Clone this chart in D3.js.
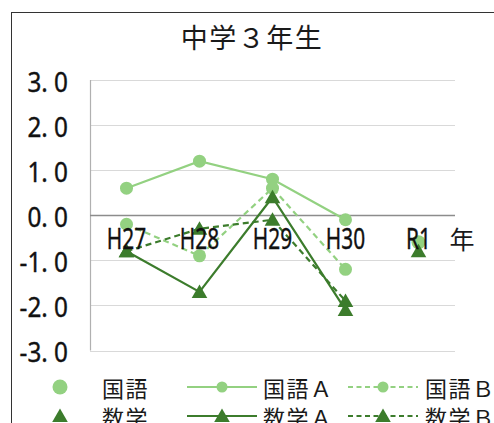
<!DOCTYPE html>
<html><head><meta charset="utf-8">
<script src="https://cdn.jsdelivr.net/npm/d3@7"></script>
<style>body{margin:0;background:#fff}svg{display:block}</style>
</head><body>
<svg id="c" width="494" height="423"></svg>
<script>
const categories = ["H27","H28","H29","H30","R1"];
const kokugo  = [null, null, null, null, -0.6];
const kokugoA = [0.6, 1.2, 0.8, -0.1, null];
const kokugoB = [-0.2, -0.9, 0.6, -1.2, null];
const sugaku  = [null, null, null, null, -0.8];
const sugakuA = [-0.8, -1.7, 0.4, -2.1, null];
const sugakuB = [-0.8, -0.3, -0.1, -1.9, null];
const yTicks = [3, 2, 1, 0, -1, -2, -3];
const title = "中学３年生";
const xUnit = "年";

const LIGHT = "#93d181", DARK = "#3c7c2c";
const series = [
  {name:"国語",  values:kokugo,  color:LIGHT, marker:"circle",   line:null},
  {name:"国語Ａ", values:kokugoA, color:LIGHT, marker:"circle",   line:"solid"},
  {name:"国語Ｂ", values:kokugoB, color:LIGHT, marker:"circle",   line:"dash"},
  {name:"数学",  values:sugaku,  color:DARK,  marker:"triangle", line:null},
  {name:"数学Ａ", values:sugakuA, color:DARK,  marker:"triangle", line:"solid"},
  {name:"数学Ｂ", values:sugakuB, color:DARK,  marker:"triangle", line:"dash"}
];

const svg = d3.select("#c");
const FONT = "'Noto Sans', 'Noto Sans CJK JP', sans-serif";
const CJK = "'Noto Sans CJK JP', sans-serif";

// chart frame
svg.append("rect").attr("x",11.5).attr("y",12.5).attr("width",600).attr("height",600)
  .attr("fill","none").attr("stroke","#333").attr("stroke-width",1);

const x = d3.scaleBand().domain(categories).range([90, 455]);
const y = d3.scaleLinear().domain([-3, 3]).range([350.5, 80]);

// gridlines
svg.append("g").selectAll("line").data(yTicks.filter(d=>d!==0)).join("line")
  .attr("x1",90).attr("x2",455).attr("y1",d=>Math.round(y(d))+0.5).attr("y2",d=>Math.round(y(d))+0.5)
  .attr("stroke","#d9d9d9").attr("stroke-width",1);
// vertical axis line
svg.append("line").attr("x1",90.5).attr("x2",90.5).attr("y1",y(3)).attr("y2",y(-3))
  .attr("stroke","#b0b0b0").attr("stroke-width",1.2);
// zero line
svg.append("line").attr("x1",90).attr("x2",455).attr("y1",Math.round(y(0))+0.5).attr("y2",Math.round(y(0))+0.5)
  .attr("stroke","#8c8c8c").attr("stroke-width",1.3);

// y labels
svg.append("g").selectAll("text").data(yTicks).join("text")
  .attr("transform",d=>`translate(68,${y(d)+2}) scale(0.9,1)`)
  .attr("text-anchor","end").attr("dominant-baseline","central")
  .attr("font-family",FONT).attr("font-size",27).attr("fill","#111")
  .attr("stroke","#111").attr("stroke-width",0.4)
  .text(d=>d3.format(".1f")(d).replace("−","-").replace(".",". "));

// title
svg.append("text").attr("x",252).attr("y",48).attr("text-anchor","middle")
  .attr("font-family",CJK).attr("font-size",27).attr("letter-spacing",1.5).attr("fill","#1a1a1a")
  .text(title);

const cx = d => x(d) + x.bandwidth()/2;
const triPath = "M0,-7.5L7.8,6L-7.8,6Z";

function drawMarker(g, mk, color, px, py, r){
  if (mk === "circle") g.append("circle").attr("cx",px).attr("cy",py).attr("r",r||6.5).attr("fill",color);
  else g.append("path").attr("d",triPath).attr("transform",`translate(${px},${py})`).attr("fill",color);
}

const plot = svg.append("g");
series.forEach(s => {
  const pts = categories.map((c,i)=>({c, v:s.values[i]})).filter(p=>p.v!==null);
  if (s.line) {
    plot.append("path").datum(pts)
      .attr("d", d3.line().x(p=>cx(p.c)).y(p=>y(p.v)))
      .attr("fill","none").attr("stroke",s.color).attr("stroke-width",2.2)
      .attr("stroke-dasharray", s.line==="dash" ? "6,4" : null);
  }
  pts.forEach(p => drawMarker(plot, s.marker, s.color, cx(p.c), y(p.v), s.line ? 6.5 : 7));
});

// x labels on top
svg.append("g").selectAll("text").data(categories).join("text")
  .attr("transform",d=>`translate(${cx(d)},${238}) scale(0.72,1)`)
  .attr("text-anchor","middle").attr("dominant-baseline","central")
  .attr("font-family",FONT).attr("font-size",29).attr("fill","#111")
  .attr("stroke","#111").attr("stroke-width",0.4)
  .text(d=>d);
svg.append("text").attr("x",462).attr("y",238).attr("text-anchor","middle").attr("dominant-baseline","central")
  .attr("font-family",CJK).attr("font-size",25).attr("fill","#1a1a1a").text(xUnit);

// legend
const legX = [60, 222, 383], textX = [102, 263, 425], rowY = [387, 416];
series.forEach((s,i) => {
  const row = i < 3 ? 0 : 1, col = i % 3;
  const ly = rowY[row];
  const g = svg.append("g");
  if (s.line) {
    g.append("line").attr("x1",legX[col]-35).attr("x2",legX[col]+35).attr("y1",ly).attr("y2",ly)
      .attr("stroke",s.color).attr("stroke-width",2.2)
      .attr("stroke-dasharray", s.line==="dash" ? "5,3.5" : null);
  }
  drawMarker(g, s.marker, s.color, legX[col], ly, s.line ? 5.5 : 7.5);
  g.append("text").attr("x",textX[col]).attr("y",ly).attr("dominant-baseline","central")
    .attr("font-family",CJK).attr("font-size",22).attr("letter-spacing",1.5).attr("fill","#1a1a1a")
    .text(s.name);
});
</script>
</body></html>
